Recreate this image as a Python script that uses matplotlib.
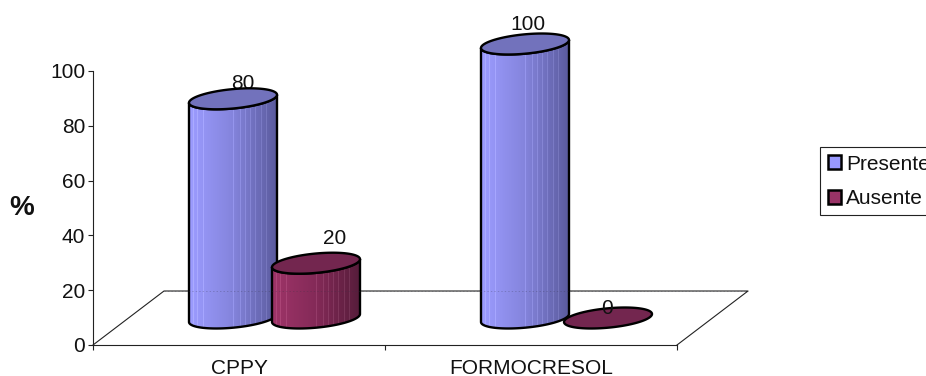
import numpy as np
import matplotlib
matplotlib.use("Agg")
import matplotlib.pyplot as plt
from matplotlib.colors import LinearSegmentedColormap
from matplotlib.patches import Patch, Polygon

plt.rcParams["font.family"] = ["Liberation Sans", "DejaVu Sans"]

# Chart values
categories = ["CPPY", "FORMOCRESOL"]
series_names = ["Presente", "Ausente"]
presente = [80, 100]
ausente = [20, 0]
y_ticks = [0, 20, 40, 60, 80, 100]

# Styling
W, H, DPI = 926, 376, 100
FONT = 15.0
OUTLINE = 1.7
side_colors = {"Presente": ("#9C9CFF", "#8484DC", "#5B5B9E"),
               "Ausente": ("#9E3468", "#842A58", "#571D3B")}
top_colors = {"Presente": "#7272BC", "Ausente": "#73264F"}
legend_colors = {"Presente": "#9999FF", "Ausente": "#993366"}
stripe_spots = [0.05, 0.1, 0.16, 0.51, 0.58, 0.64, 0.7, 0.76, 0.82, 0.88]

fig = plt.figure(figsize=(W / DPI, H / DPI), dpi=DPI, facecolor="white")
AX_L, AX_R, AX_T, AX_B = 93, 677, 71, 345
ax = fig.add_axes([AX_L / W, 1 - AX_B / H, (AX_R - AX_L) / W, (AX_B - AX_T) / H])
ax.set_xlim(0, len(categories))
ax.set_ylim(0, 100)
ax.patch.set_visible(False)

px_x = len(categories) / (AX_R - AX_L)   # data units per pixel, horizontally
px_y = 100 / (AX_B - AX_T)               # data units per pixel, vertically

# Perspective floor behind the columns
DEPTH_X, DEPTH_Y = 71 * px_x, 54 * px_y
floor_x = [0, DEPTH_X, 2 + DEPTH_X, 2]
floor_y = [0, DEPTH_Y, DEPTH_Y, 0]
ax.plot(floor_x, floor_y, color="#222222", lw=0.8, clip_on=False, zorder=1)

# Column geometry, in pixels
HALF_W = 44
SLANT = 4
MINOR = 9.7
BASE_RISE = 27      # floor-plane height of the column base centre
OFFSETS = {"Presente": 140, "Ausente": 223}
t = np.linspace(0, 2 * np.pi, 181)


def rim(cx, base, t_values):
    """Slanted ellipse outline at height `base` (data units) around column centre cx."""
    xs = cx + HALF_W * px_x * np.cos(t_values)
    ys = base + (SLANT * np.cos(t_values) + MINOR * np.sin(t_values)) * px_y
    return xs, ys


def draw_column(cat, name, value, z):
    cx = cat + OFFSETS[name] * px_x
    base = BASE_RISE * px_y
    top = base + value
    if value > 0:
        # Front of the column: lower half of the base rim, then back along the top rim
        arc = np.linspace(np.pi, 2 * np.pi, 91)
        bx, by = rim(cx, base, arc)
        tx, ty = rim(cx, top, arc[::-1])
        outline = np.column_stack([np.r_[bx, tx], np.r_[by, ty]])

        stops = side_colors[name]
        cmap = LinearSegmentedColormap.from_list(name, stops)
        grad = cmap(np.linspace(0, 1, 88))[:, :3]
        for s in stripe_spots:
            i = int(s * 88)
            grad[i] = np.clip(grad[i] + 0.07, 0, 1)
        left, right = cx - HALF_W * px_x, cx + HALF_W * px_x
        img = ax.imshow(grad[np.newaxis, :, :], extent=[left, right, -20, 140],
                        aspect="auto", interpolation="nearest", zorder=z)
        # The shading has to reach above the axes box for the tallest column
        img.set_clip_box(fig.bbox)
        clip = Polygon(outline, closed=True, transform=ax.transData)
        img.set_clip_path(clip)
        ax.add_patch(Polygon(outline, closed=True, fill=False, edgecolor="black",
                             lw=OUTLINE, clip_on=False, zorder=z + 0.1, joinstyle="round"))
    xs, ys = rim(cx, top, t)
    ax.fill(xs, ys, facecolor=top_colors[name], edgecolor="black", lw=OUTLINE,
            clip_on=False, zorder=z + 0.2)


# Value labels; the 80 sits just behind its column top, the 0 over its disc
label_shift = {("Presente", 0): (10, 15), ("Ausente", 0): (19, 25),
               ("Presente", 1): (3, 19), ("Ausente", 1): (-1, 9)}
for name, values, z in (("Presente", presente, 4), ("Ausente", ausente, 5)):
    for cat, value in enumerate(values):
        dx, dy = label_shift[(name, cat)]
        cx = cat + OFFSETS[name] * px_x
        ax.text(cx + dx * px_x, BASE_RISE * px_y + value + dy * px_y, str(value),
                ha="center", va="center", fontsize=FONT, color="#111111",
                clip_on=False, zorder=7 if value == 0 else 3)
        draw_column(cat, name, value, z)

# Back floor edge showing faintly through the columns
ax.plot([DEPTH_X, 2 + DEPTH_X], [DEPTH_Y, DEPTH_Y], color="#333344", lw=0.5,
        ls=(0, (2, 3)), alpha=0.35, clip_on=False, zorder=6)

ax.set_xlim(0, len(categories))
ax.set_ylim(0, 100)

# Axes
for side in ("top", "right"):
    ax.spines[side].set_visible(False)
for side in ("left", "bottom"):
    ax.spines[side].set_linewidth(0.8)
    ax.spines[side].set_color("#222222")
    ax.spines[side].set_zorder(2)
ax.set_yticks(y_ticks)
ax.set_xticks(range(len(categories) + 1))
ax.set_xticklabels([""] * (len(categories) + 1))
ax.tick_params(axis="both", length=3.6, width=0.8, color="#222222")
ax.tick_params(axis="y", labelsize=FONT, pad=2, labelcolor="#111111")
for i, cat in enumerate(categories):
    ax.annotate(cat, xy=(i + 0.5, 0), xycoords="data", xytext=(0, -17),
                textcoords="offset points", ha="center", va="center",
                fontsize=FONT, color="#111111", annotation_clip=False)

fig.text(22 / W, 1 - 208 / H, "%", fontsize=20, fontweight="bold",
         ha="center", va="center", color="#111111")

# Legend runs past the right edge of the canvas
handles = [Patch(facecolor=legend_colors[n], edgecolor="black", lw=1.8, label=n)
           for n in series_names]
fig.legend(handles=handles, loc="upper left",
           bbox_to_anchor=(820 / W, 1 - 147 / H), bbox_transform=fig.transFigure,
           fontsize=FONT, frameon=True, fancybox=False, framealpha=1,
           edgecolor="#222222", borderaxespad=0, borderpad=0.36,
           handlelength=0.66, handleheight=0.66, handletextpad=0.22,
           labelspacing=0.74, labelcolor="#111111").get_frame().set_linewidth(0.8)

fig.savefig("out.png", dpi=DPI)
